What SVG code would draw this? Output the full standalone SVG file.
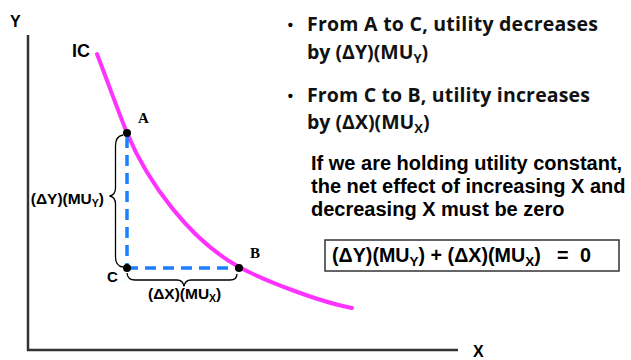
<svg xmlns="http://www.w3.org/2000/svg" width="631" height="360" viewBox="0 0 631 360">
<style>
.ax{stroke:#333;stroke-width:2.5;fill:none}
.dash{stroke:#1a80ff;stroke-width:3.5;stroke-dasharray:11 7;fill:none}
.brace{stroke:#000;stroke-width:1.3;fill:none}
.curve{stroke:#ff33ff;stroke-width:4;fill:none;stroke-linecap:round}
.pt{fill:#000}
.ar{font-family:"Liberation Sans",Arial,sans-serif;font-weight:bold;fill:#000}
.os{font-family:"Open Sans","Noto Sans",sans-serif;font-weight:bold;fill:#111}
.sr{font-family:"Liberation Serif","Times New Roman",serif;font-weight:bold;fill:#000}
</style>
<rect width="631" height="360" fill="#fff"/>
<g id="axes">
<polyline class="ax" points="28,35 28,350 458,350"/>
<text class="ar" x="10" y="27" font-size="16">Y</text>
<text class="ar" x="473" y="357" font-size="16">X</text>
</g>
<g id="connectors">
<path class="curve" d="M97,54 C107,80 117,108 127,133 C148,183 190,240 239,267 C265,281 320,302 352,308"/>
<line class="dash" x1="127" y1="137" x2="127" y2="268"/>
<line class="dash" x1="127" y1="268" x2="237" y2="268"/>
<path class="brace" d="M123,135 Q115.5,136 115.5,146 L115.5,188 Q115.5,195 109.5,196 Q115.5,197 115.5,204 L115.5,257 Q115.5,266 123,267"/>
<path class="brace" d="M127,273 Q127.5,280 135,280 L177,280 Q183,280 184,286.5 Q185,280 191,280 L230,280 Q237,280 237,274"/>
</g>
<g id="IC"><text class="ar" x="72" y="57" font-size="18">IC</text></g>
<g id="A"><circle class="pt" cx="127" cy="133" r="4"/><text class="sr" x="138" y="123" font-size="15">A</text></g>
<g id="C"><circle class="pt" cx="127" cy="268" r="4"/><text class="ar" x="107" y="282" font-size="15">C</text></g>
<g id="B"><circle class="pt" cx="239" cy="268" r="4"/><text class="sr" x="250" y="258" font-size="15">B</text></g>
<g id="labelDY"><text class="ar" x="104" y="204" font-size="15.5" text-anchor="end">(ΔY)(MU<tspan font-size="10.5" dy="3">Y</tspan><tspan dy="-3">)</tspan></text></g>
<g id="labelDX"><text class="ar" x="148" y="299" font-size="15.5">(ΔX)(MU<tspan font-size="10.5" dy="3">X</tspan><tspan dy="-3">)</tspan></text></g>
<g id="bullets">
<text class="ar" x="290.5" y="30" font-size="15" text-anchor="middle">•</text>
<text class="os" x="307" y="31" font-size="19.5" textLength="291" lengthAdjust="spacing">From A to C, utility decreases</text>
<text class="os" x="307" y="59" font-size="19.5">by (ΔY)(MU<tspan font-size="13" dy="4">Y</tspan><tspan dy="-4">)</tspan></text>
<text class="ar" x="290.5" y="101" font-size="15" text-anchor="middle">•</text>
<text class="os" x="307" y="102" font-size="19.5" textLength="283" lengthAdjust="spacing">From C to B, utility increases</text>
<text class="os" x="307" y="129" font-size="19.5">by (ΔX)(MU<tspan font-size="13" dy="4">X</tspan><tspan dy="-4">)</tspan></text>
</g>
<g id="note">
<text class="ar" x="311" y="170" font-size="20">If we are holding utility constant,</text>
<text class="ar" x="311" y="193" font-size="20">the net effect of increasing X and</text>
<text class="ar" x="311" y="216" font-size="20">decreasing X must be zero</text>
</g>
<g id="equation">
<rect x="325" y="240" width="294" height="31" fill="#fff" stroke="#333" stroke-width="1.5"/>
<text class="ar" x="332" y="262" font-size="19.7">(ΔY)(MU<tspan font-size="13.5" dy="4">Y</tspan><tspan dy="-4">) + (ΔX)(MU</tspan><tspan font-size="13.5" dy="4">X</tspan><tspan dy="-4">)</tspan></text>
<text class="ar" x="557" y="262" font-size="19.7">=</text>
<text class="ar" x="580" y="262" font-size="19.7">0</text>
</g>
</svg>
